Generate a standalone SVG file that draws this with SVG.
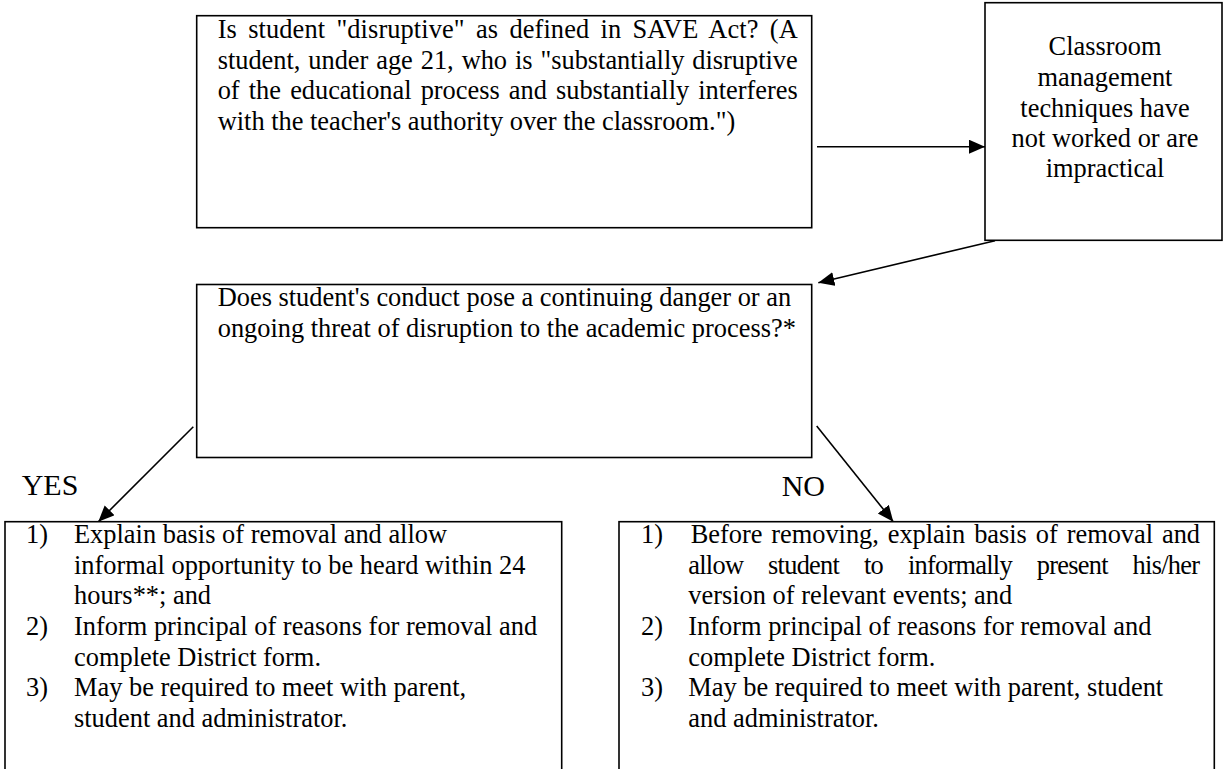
<svg xmlns="http://www.w3.org/2000/svg" width="1224" height="769" viewBox="0 0 1224 769">
<style>
.box{fill:#fff;stroke:#000;stroke-width:1.6}
.t{font-family:"Liberation Serif","Times New Roman","DejaVu Serif",serif;font-size:26.4px;fill:#000}
.c{text-anchor:middle}
.lbl{font-family:"Liberation Serif","Times New Roman","DejaVu Serif",serif;font-size:30px;fill:#000}
.con{stroke:#000;stroke-width:1.6;fill:none}
</style>
<defs>
<marker id="ah" markerUnits="userSpaceOnUse" markerWidth="18" markerHeight="16" refX="16" refY="7" orient="auto">
<path d="M0,0 L16,7 L0,14 z" fill="#000"/>
</marker>
</defs>
<rect width="1224" height="769" fill="#fff"/>
<g id="connectors">
<line class="con" x1="817" y1="146.7" x2="985" y2="146.7" stroke-width="2" marker-end="url(#ah)"/>
<line class="con" x1="995" y1="240.7" x2="818.3" y2="282.7" marker-end="url(#ah)"/>
<line class="con" x1="193.3" y1="426.7" x2="98.3" y2="521.7" marker-end="url(#ah)"/>
<line class="con" x1="816.7" y1="426" x2="893.3" y2="521.7" marker-end="url(#ah)"/>
</g>
<g id="node-disruptive">
<rect class="box" x="196.7" y="15.7" width="615" height="212"/>
<text class="t" x="217.7" y="37.7" word-spacing="4.6" textLength="580" lengthAdjust="spacing">Is student "disruptive" as defined in SAVE Act? (A</text>
<text class="t" x="217.7" y="68.5" word-spacing="1.4" textLength="580" lengthAdjust="spacing">student, under age 21, who is "substantially disruptive</text>
<text class="t" x="217.7" y="99.3" word-spacing="2.6" textLength="580" lengthAdjust="spacing">of the educational process and substantially interferes</text>
<text class="t" x="217.7" y="130">with the teacher's authority over the classroom.")</text>
</g>
<g id="node-classroom">
<rect class="box" x="985" y="2.7" width="237" height="237.6"/>
<text class="t c" x="1105" y="55">Classroom</text>
<text class="t c" x="1105" y="86">management</text>
<text class="t c" x="1105" y="116.5">techniques have</text>
<text class="t c" x="1105" y="146.8">not worked or are</text>
<text class="t c" x="1105" y="177">impractical</text>
</g>
<g id="node-danger">
<rect class="box" x="196.7" y="284.5" width="615" height="173"/>
<text class="t" x="217.7" y="305.5">Does student's conduct pose a continuing danger or an</text>
<text class="t" x="217.7" y="336.8">ongoing threat of disruption to the academic process?*</text>
</g>
<g id="label-yes">
<text class="lbl" x="21.7" y="495">YES</text>
</g>
<g id="label-no">
<text class="lbl" x="781.7" y="496">NO</text>
</g>
<g id="node-yes">
<rect class="box" x="5" y="521.7" width="556.7" height="260"/>
<text class="t" x="26" y="543">1)</text>
<text class="t" x="74" y="543">Explain basis of removal and allow</text>
<text class="t" x="74" y="573.5">informal opportunity to be heard within 24</text>
<text class="t" x="74" y="604">hours**; and</text>
<text class="t" x="26" y="634.5">2)</text>
<text class="t" x="74" y="634.5">Inform principal of reasons for removal and</text>
<text class="t" x="74" y="665.5">complete District form.</text>
<text class="t" x="26" y="696">3)</text>
<text class="t" x="74" y="696">May be required to meet with parent,</text>
<text class="t" x="74" y="727">student and administrator.</text>
</g>
<g id="node-no">
<rect class="box" x="619" y="521.7" width="595.3" height="260"/>
<text class="t" x="641" y="543">1)</text>
<text class="t" x="690.7" y="543" word-spacing="2.4" textLength="509.3" lengthAdjust="spacing">Before removing, explain basis of removal and</text>
<text class="t" x="688.3" y="573.5" word-spacing="19" textLength="511.7" lengthAdjust="spacing">allow student to informally present his/her</text>
<text class="t" x="688.3" y="604">version of relevant events; and</text>
<text class="t" x="641" y="634.5">2)</text>
<text class="t" x="688.3" y="634.5">Inform principal of reasons for removal and</text>
<text class="t" x="688.3" y="665.5">complete District form.</text>
<text class="t" x="641" y="696">3)</text>
<text class="t" x="688.3" y="696">May be required to meet with parent, student</text>
<text class="t" x="688.3" y="727">and administrator.</text>
</g>
</svg>
